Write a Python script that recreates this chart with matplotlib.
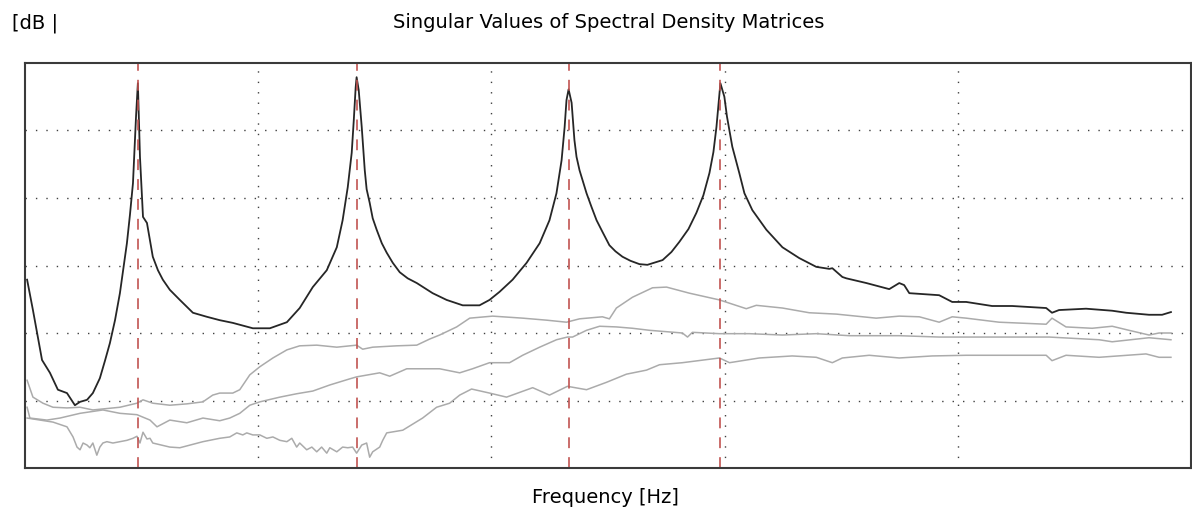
import matplotlib.pyplot as plt

# first singular value (black)
f1 = [0.09, 0.34, 0.73, 1.07, 1.41, 1.80, 2.14, 2.36, 2.66, 2.91, 3.21, 3.43, 3.64, 3.86, 4.07, 4.24,
      4.37, 4.50, 4.63, 4.76, 4.84, 4.93, 5.06, 5.23, 5.48, 5.70, 5.91, 6.21, 6.64, 7.20, 7.80, 8.35,
      8.91, 9.77, 10.50, 11.23, 11.78, 12.34, 12.94, 13.37, 13.62, 13.84, 14.01, 14.10, 14.18, 14.22,
      14.31, 14.44, 14.57, 14.65, 14.78, 14.91, 15.08, 15.30, 15.51, 15.77, 16.07, 16.41, 16.80, 17.48,
      18.08, 18.77, 19.49, 19.92, 20.35, 20.91, 21.51, 22.07, 22.49, 22.79, 23.01, 23.14, 23.22, 23.31,
      23.44, 23.56, 23.65, 23.78, 24.08, 24.29, 24.51, 24.76, 25.06, 25.32, 25.62, 25.96, 26.35, 26.69,
      27.34, 27.72, 28.06, 28.45, 28.79, 29.09, 29.35, 29.52, 29.65, 29.82, 29.99, 30.10, 30.33, 30.63,
      30.85, 31.19, 31.79, 32.48, 33.20, 33.93, 34.49, 34.62, 35.05, 35.22, 36.08, 37.06, 37.49, 37.70,
      37.92, 39.20, 39.76, 40.36, 41.47, 42.33, 43.79, 44.04, 44.34, 45.50, 46.62, 47.22, 48.20, 48.76,
      49.14]
s1 = [-32.1, -36.6, -44.0, -45.9, -48.4, -48.9, -50.7, -50.2, -49.9, -48.9, -46.7, -44.1, -41.5, -38.1,
      -34.1, -29.9, -26.7, -22.5, -17.8, -8.0, -3.0, -13.9, -22.8, -23.7, -28.7, -30.7, -32.1, -33.6,
      -35.1, -37.0, -37.6, -38.1, -38.5, -39.3, -39.3, -38.4, -36.3, -33.2, -30.7, -27.3, -23.3, -18.4,
      -13.3, -8.4, -3.6, -2.1, -4.0, -9.5, -15.9, -18.7, -20.7, -23.0, -24.7, -26.7, -28.1, -29.6, -31.0,
      -31.9, -32.6, -34.1, -35.1, -35.9, -35.9, -35.1, -33.9, -32.1, -29.6, -26.7, -23.3, -19.3, -14.4,
      -9.5, -5.5, -3.9, -5.9, -11.4, -13.9, -15.9, -19.3, -21.3, -23.3, -25.0, -27.0, -27.9, -28.7,
      -29.3, -29.8, -29.9, -29.2, -28.0, -26.5, -24.6, -22.2, -19.6, -16.3, -13.2, -9.5, -3.0, -5.0,
      -7.9, -12.4, -16.3, -19.3, -21.8, -24.7, -27.3, -28.9, -30.2, -30.5, -30.4, -31.7, -31.9, -32.6,
      -33.5, -32.6, -32.9, -34.1, -34.4, -35.4, -35.4, -36.0, -36.0, -36.3, -37.0, -36.6, -36.4, -36.7,
      -37.0, -37.3, -37.3, -36.9]

# second singular value (gray)
f2 = [0.09, 0.34, 0.77, 1.20, 1.80, 2.36, 2.91, 4.07, 4.80, 5.06, 5.48, 6.21, 6.94, 7.63, 8.05, 8.35,
      8.91, 9.21, 9.64, 10.07, 10.63, 11.23, 11.78, 12.51, 13.37, 14.22, 14.48, 14.91, 15.94, 16.80,
      17.35, 17.78, 18.51, 19.07, 20.05, 21.34, 22.37, 23.22, 23.78, 24.76, 25.06, 25.36, 26.05, 26.91,
      27.51, 28.49, 29.78, 30.93, 31.36, 32.48, 33.63, 34.79, 36.50, 37.49, 38.35, 39.20, 39.76, 40.36,
      41.77, 43.79, 44.04, 44.64, 45.76, 46.62, 47.34, 48.20, 48.63, 49.14]
s2 = [-47.0, -49.5, -50.4, -51.0, -51.1, -51.0, -51.4, -51.0, -50.4, -49.9, -50.4, -50.7, -50.5, -50.2,
      -49.2, -48.9, -48.9, -48.4, -46.2, -45.0, -43.7, -42.5, -41.9, -41.8, -42.1, -41.8, -42.4, -42.1,
      -41.9, -41.8, -40.9, -40.3, -39.1, -37.8, -37.5, -37.8, -38.1, -38.4, -37.9, -37.6, -37.9, -36.3,
      -34.7, -33.3, -33.2, -34.1, -35.1, -36.4, -35.9, -36.3, -37.0, -37.2, -37.8, -37.5, -37.6, -38.4,
      -37.6, -37.8, -38.4, -38.7, -37.8, -39.1, -39.3, -39.0, -39.6, -40.3, -40.0, -40.0]

# third singular value (gray)
f3 = [0.09, 0.21, 0.94, 1.50, 2.36, 3.34, 4.07, 4.80, 5.36, 5.66, 6.21, 6.94, 7.63, 8.35, 8.78, 9.21,
      9.64, 10.07, 10.93, 11.65, 12.34, 13.07, 13.92, 14.22, 15.21, 15.64, 16.37, 17.05, 17.78, 18.64,
      19.19, 19.92, 20.78, 21.34, 22.07, 22.79, 23.26, 23.48, 24.08, 24.64, 25.36, 26.05, 26.78, 28.19,
      28.41, 28.62, 29.78, 31.06, 32.48, 33.93, 35.35, 37.49, 39.20, 41.77, 43.92, 46.06, 46.62, 48.20,
      49.14]
s3 = [-51.0, -52.6, -52.9, -52.6, -51.9, -51.4, -51.9, -52.1, -52.9, -53.9, -52.9, -53.3, -52.6, -53.0,
      -52.6, -51.9, -50.7, -50.2, -49.5, -49.0, -48.6, -47.7, -46.8, -46.5, -45.9, -46.4, -45.3, -45.3,
      -45.3, -45.9, -45.3, -44.4, -44.4, -43.3, -42.1, -41.0, -40.6, -40.6, -39.6, -39.0, -39.1, -39.3,
      -39.6, -40.0, -40.6, -39.9, -40.1, -40.1, -40.3, -40.1, -40.4, -40.4, -40.6, -40.6, -40.6, -41.0,
      -41.3, -40.7, -41.0]

# fourth singular value (gray, noisy)
f4 = [0.09, 1.20, 1.80, 2.06, 2.23, 2.36, 2.49, 2.66, 2.78, 2.91, 3.08, 3.21, 3.34, 3.51, 3.77, 4.07,
      4.37, 4.63, 4.80, 4.93, 5.06, 5.23, 5.36, 5.48, 6.21, 6.64, 7.63, 8.35, 8.78, 9.08, 9.34, 9.51,
      9.77, 10.07, 10.37, 10.63, 10.93, 11.23, 11.44, 11.65, 11.78, 12.08, 12.30, 12.51, 12.72, 12.94,
      13.07, 13.37, 13.62, 13.84, 14.05, 14.22, 14.44, 14.65, 14.78, 14.91, 15.21, 15.34, 15.51, 16.20,
      17.05, 17.65, 18.21, 18.64, 19.15, 19.92, 20.65, 21.77, 22.49, 23.26, 24.08, 24.94, 25.79, 26.65,
      27.21, 28.19, 29.78, 30.21, 31.49, 32.90, 33.93, 34.62, 35.05, 36.20, 37.49, 38.90, 40.36, 43.79,
      44.04, 44.64, 46.06, 48.07, 48.63, 49.14]
s4 = [-52.6, -53.2, -53.9, -55.4, -56.9, -57.3, -56.3, -56.6, -57.0, -56.3, -58.1, -56.9, -56.3, -56.1,
      -56.3, -56.1, -55.9, -55.6, -55.3, -56.3, -54.7, -55.7, -55.6, -56.3, -56.9, -57.0, -56.1, -55.6,
      -55.4, -54.8, -55.1, -54.8, -55.1, -55.1, -55.6, -55.4, -55.9, -56.1, -55.6, -56.9, -56.3, -57.3,
      -56.9, -57.6, -56.9, -57.8, -57.0, -57.6, -56.9, -57.0, -56.9, -57.8, -56.6, -56.3, -58.4, -57.6,
      -56.9, -55.9, -54.8, -54.4, -52.6, -51.0, -50.4, -49.2, -48.3, -48.9, -49.5, -48.1, -49.2, -47.9,
      -48.4, -47.3, -46.1, -45.5, -44.7, -44.4, -43.7, -44.4, -43.7, -43.4, -43.6, -44.4, -43.7, -43.3,
      -43.7, -43.4, -43.3, -43.3, -44.1, -43.3, -43.6, -43.1, -43.6, -43.6]

# picked modes
modes = [4.84, 14.22, 23.31, 29.82]

fig = plt.figure(figsize=(11.92, 5.09), dpi=100)
ax = fig.add_axes([25 / 1192, 41 / 509, 1166 / 1192, 405 / 509])

ax.set_xlim(0, 50)
ax.set_ylim(-60, 0)
ax.set_xticks([10, 20, 30, 40])
ax.set_yticks([-50, -40, -30, -20, -10])
ax.tick_params(length=0, labelbottom=False, labelleft=False)
ax.grid(True, color='#404040', linestyle=(0, (1, 6.5)), linewidth=1.0)
ax.set_axisbelow(True)
for sp in ax.spines.values():
    sp.set_color('#3a3a3a')
    sp.set_linewidth(1.5)

ax.plot(f4, s4, color='#ababab', lw=1.1)
ax.plot(f3, s3, color='#ababab', lw=1.1)
ax.plot(f2, s2, color='#ababab', lw=1.1)
ax.plot(f1, s1, color='#262626', lw=1.3)

for m in modes:
    ax.axvline(m, color='#c0504d', lw=1.3, linestyle=(0, (6, 5)), alpha=0.9)

fig.text(0.511, 0.955, 'Singular Values of Spectral Density Matrices', ha='center', va='center', fontsize=14,
         family='DejaVu Sans')
fig.text(0.010, 0.955, '[dB |', ha='left', va='center', fontsize=14, family='DejaVu Sans')
fig.text(0.508, 0.022, 'Frequency [Hz]', ha='center', va='center', fontsize=14, family='DejaVu Sans')

fig.savefig('out.png', dpi=100)
